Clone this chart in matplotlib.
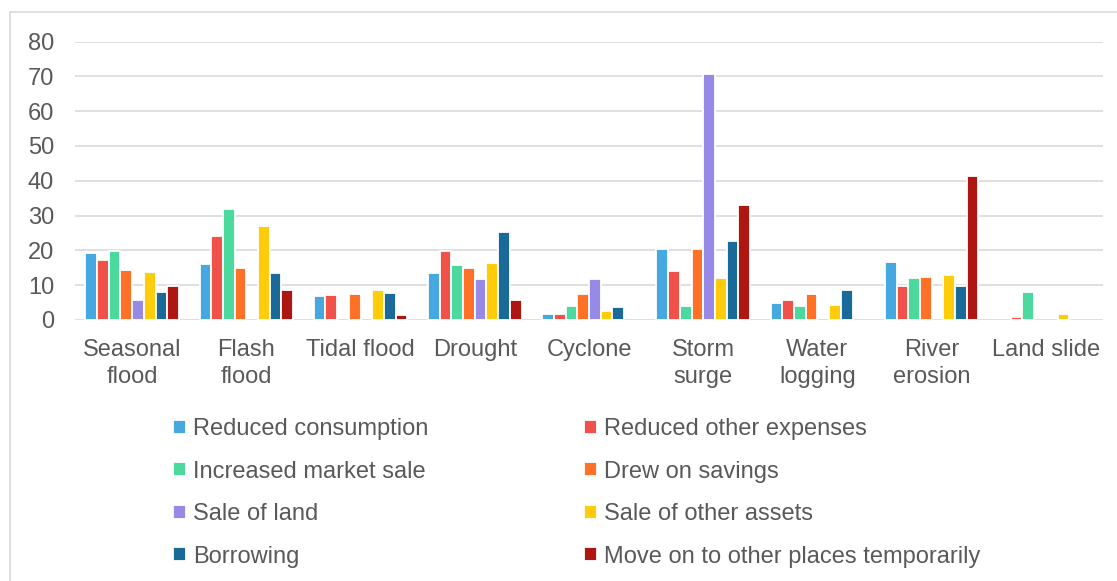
import matplotlib.pyplot as plt
import numpy as np
from matplotlib.lines import Line2D

plt.rcParams['font.family'] = ['Liberation Sans', 'DejaVu Sans']

hazards = ["Seasonal\nflood", "Flash\nflood", "Tidal flood", "Drought", "Cyclone",
           "Storm\nsurge", "Water\nlogging", "River\nerosion", "Land slide"]

reduced_consumption = [19.2, 16.0, 6.8, 13.5, 1.7, 20.3, 4.8, 16.7, 0]
reduced_other_exp   = [17.2, 24.0, 7.1, 19.9, 1.7, 14.0, 5.7, 9.8, 0.9]
increased_market    = [19.9, 31.9, 0, 15.9, 4.0, 4.0, 4.0, 12.0, 7.9]
drew_on_savings     = [14.4, 14.9, 7.5, 14.9, 7.5, 20.4, 7.5, 12.3, 0]
sale_of_land        = [5.7, 0, 0, 11.7, 11.7, 70.6, 0, 0, 0]
sale_other_assets   = [13.8, 26.9, 8.6, 16.4, 2.5, 12.1, 4.2, 12.9, 1.7]
borrowing           = [7.9, 13.5, 7.7, 25.3, 3.6, 22.6, 8.6, 9.8, 0]
move_temporarily    = [9.9, 8.6, 1.3, 5.7, 0, 32.9, 0, 41.4, 0]

series = [reduced_consumption, reduced_other_exp, increased_market, drew_on_savings,
          sale_of_land, sale_other_assets, borrowing, move_temporarily]
labels = ["Reduced consumption", "Reduced other expenses", "Increased market sale",
          "Drew on savings", "Sale of land", "Sale of other assets", "Borrowing",
          "Move on to other places temporarily"]
colors = ["#45A8E0", "#F0524A", "#4CD99E", "#FF7126", "#968AE6", "#FFCC0B",
          "#1A6A99", "#AD1611"]

grey = "#595959"
fig = plt.figure(figsize=(11.17, 5.81), dpi=100)
ax = fig.add_axes([75 / 1117, 1 - 320 / 581, (1103 - 75) / 1117, (320 - 41.5) / 581])

x = np.arange(len(hazards))
w = 0.1025
handles = []
for i, (vals, lab, col) in enumerate(zip(series, labels, colors)):
    v = np.array(vals, dtype=float)
    v[v == 0] = np.nan
    b = ax.bar(x + (i - 3.5) * w, v, w, color=col, edgecolor="white",
               linewidth=1.3, label=lab, zorder=3)
    handles.append(b)

ax.set_xlim(-0.5, len(hazards) - 0.5)
ax.set_ylim(0, 80)
ax.set_yticks(range(0, 81, 10))
ax.set_xticks(x)
ax.set_xticklabels(hazards)
ax.yaxis.grid(True, color="#D9D9D9", linewidth=1.2, zorder=0)
ax.set_axisbelow(True)
for s in ["top", "right", "left", "bottom"]:
    ax.spines[s].set_visible(False)
ax.tick_params(axis="both", length=0, labelsize=17, colors=grey)
ax.tick_params(axis="y", pad=15)
ax.tick_params(axis="x", pad=14)
for t in ax.get_xticklabels():
    t.set_linespacing(1.25)

# legend filled row by row: two entries per row
order = [0, 2, 4, 6, 1, 3, 5, 7]
leg = fig.legend(handles=[handles[k] for k in order], labels=[labels[k] for k in order],
                 ncol=2, frameon=False,
                 loc="upper left", bbox_to_anchor=(173 / 1117, 1 - 418 / 581),
                 fontsize=17, handlelength=0.55, handleheight=0.55,
                 handletextpad=0.3, columnspacing=6.6, labelspacing=0.87,
                 borderaxespad=0, borderpad=0)
for t in leg.get_texts():
    t.set_color(grey)

# chart frame
fig.add_artist(Line2D([10 / 1117, 10 / 1117], [0, 1 - 12 / 581], color="#D9D9D9",
                      linewidth=1.2, transform=fig.transFigure))
fig.add_artist(Line2D([10 / 1117, 1], [1 - 12 / 581, 1 - 12 / 581], color="#D9D9D9",
                      linewidth=1.2, transform=fig.transFigure))

fig.savefig("out.png", dpi=100, facecolor="white")
